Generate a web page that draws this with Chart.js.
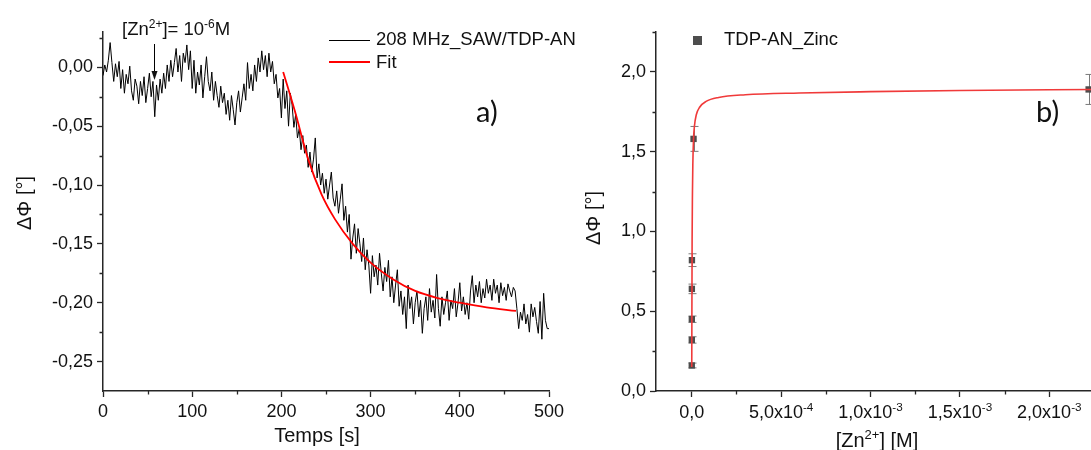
<!DOCTYPE html>
<html lang="fr">
<head>
<meta charset="utf-8">
<script src="https://cdn.jsdelivr.net/npm/chart.js@4.4.1/dist/chart.umd.min.js"></script>
<style>
    html, body { margin: 0; padding: 0; background: #fff; overflow: hidden; width: 1091px; height: 450px; }
    .panneau { position: absolute; top: 0; }
    #panneauA { left: 0; }
    #panneauB { left: 570px; }
</style>
</head>
<body>
<div class="panneau" id="panneauA"><canvas id="graficoA" width="600" height="450"></canvas></div>
<div class="panneau" id="panneauB"><canvas id="graficoB" width="530" height="450"></canvas></div>
<script>
// --- a) dephasage SAW en fonction du temps (une mesure toutes les 2 s) ---
const pasTemps = 2;
const dephasageSAW = [
    -0.007, 0.002, -0.004, 0.006, 0.021, 0.004, -0.012, 0.003, -0.008, 0.005,
    -0.018, -0.002, -0.022, -0.006, -0.014, 0.001, -0.020, -0.028, -0.010, -0.016,
    -0.031, -0.012, -0.024, -0.008, -0.030, -0.018, -0.005, -0.025, -0.012, -0.042,
    -0.015, -0.028, -0.010, -0.022, -0.005, -0.018, 0.002, -0.012, 0.006, -0.008,
    0.004, 0.016, -0.004, 0.010, -0.012, 0.012, 0.004, 0.019, -0.002, 0.014,
    -0.018, 0.006, -0.022, -0.004, -0.015, 0.002, -0.026, -0.008, 0.009, -0.012,
    -0.020, -0.004, -0.028, -0.012, -0.024, -0.034, -0.016, -0.030, -0.022, -0.040,
    -0.028, -0.045, -0.024, -0.036, -0.049, -0.030, -0.020, -0.038, -0.026, -0.014,
    -0.028, 0.004, -0.018, -0.006, -0.020, 0.002, -0.012, 0.008, -0.004, 0.014,
    -0.002, 0.010, -0.008, 0.012, -0.004, 0.005, -0.014, -0.006, -0.026, -0.018,
    -0.043, -0.010, -0.035, -0.020, -0.050, -0.022, -0.032, -0.051, -0.040, -0.060,
    -0.052, -0.070, -0.058, -0.073, -0.066, -0.085, -0.072, -0.089, -0.078, -0.060,
    -0.094, -0.082, -0.100, -0.090, -0.107, -0.095, -0.112, -0.100, -0.089, -0.111,
    -0.118, -0.105, -0.124, -0.112, -0.099, -0.130, -0.118, -0.140, -0.125, -0.163,
    -0.145, -0.133, -0.158, -0.137, -0.150, -0.165, -0.145, -0.172, -0.155, -0.168,
    -0.192, -0.160, -0.178, -0.168, -0.185, -0.158, -0.175, -0.190, -0.170, -0.182,
    -0.164, -0.195, -0.178, -0.200, -0.185, -0.172, -0.203, -0.190, -0.210, -0.195,
    -0.222, -0.185, -0.205, -0.195, -0.218, -0.200, -0.190, -0.212, -0.198, -0.226,
    -0.205, -0.195, -0.215, -0.188, -0.208, -0.198, -0.213, -0.176, -0.205, -0.220,
    -0.195, -0.210, -0.200, -0.190, -0.215, -0.198, -0.205, -0.188, -0.212, -0.200,
    -0.183, -0.207, -0.195, -0.210, -0.200, -0.214, -0.190, -0.177, -0.200, -0.185,
    -0.195, -0.182, -0.200, -0.188, -0.196, -0.180, -0.192, -0.185, -0.198, -0.180,
    -0.192, -0.185, -0.200, -0.183, -0.194, -0.187, -0.198, -0.184, -0.190, -0.195,
    -0.187, -0.190, -0.205, -0.222, -0.208, -0.215, -0.201, -0.218, -0.210, -0.225,
    -0.201, -0.212, -0.204, -0.216, -0.226, -0.199, -0.231, -0.192, -0.215, -0.222,
    -0.222
];
const tempsFit = [202, 215, 230, 245, 260, 280, 300, 325, 350, 375, 400, 430, 463];
const dephasageFit = [-0.004, -0.037, -0.078, -0.108, -0.129, -0.150, -0.166, -0.180, -0.190, -0.196, -0.200, -0.204, -0.207];
const tempsInjection = 57;

const ticksTempsA = [0, 100, 200, 300, 400, 500];
const ticksMineursTempsA = [50, 150, 250, 350, 450];
const ticksDephasageA = [0, -0.05, -0.10, -0.15, -0.20, -0.25];
const ticksMineursDephasageA = [0.025, -0.025, -0.075, -0.125, -0.175, -0.225];

// --- b) reponse en fonction de [Zn2+] ---
const concentrationsZn = [1e-7, 2.5e-7, 4e-7, 6e-7, 1e-6, 1e-5, 2.22e-3];
const reponseZn = [0.16, 0.32, 0.45, 0.64, 0.82, 1.58, 1.89];
const erreurZn = [0.015, 0.02, 0.02, 0.03, 0.04, 0.078, 0.094];
const concentrationsFit = [0, 2e-6, 4e-6, 6e-6, 1e-5, 1.5e-5, 2.5e-5, 4.5e-5, 8e-5, 1.5e-4, 3e-4, 6e-4, 1e-3, 1.5e-3, 2.25e-3];
const reponseFit = [0.15, 0.95, 1.25, 1.42, 1.58, 1.66, 1.73, 1.78, 1.815, 1.84, 1.857, 1.868, 1.876, 1.883, 1.89];

const ticksZn = [0, 5e-4, 1e-3, 1.5e-3, 2e-3];
const etiquettesZn = ['0,0', '5,0x10^-4', '1,0x10^-3', '1,5x10^-3', '2,0x10^-3'];
const ticksMineursZn = [2.5e-4, 7.5e-4, 1.25e-3, 1.75e-3];
const ticksReponseB = [0, 0.5, 1.0, 1.5, 2.0];
const ticksMineursReponseB = [0.25, 0.75, 1.25, 1.75, 2.25];

const POLICE = '"Liberation Sans", Arial, sans-serif';
const COULEUR_AXE = '#262626';
const TAILLE_TICKS = 18;
const TAILLE_TITRE = 20;

function police(taille) {
    return taille + 'px ' + POLICE;
}

/**
 * Ecrit un texte avec des exposants, morceaux separes par ^ (ex: "10^-6^M")
 */
function texteRiche(ctx, texte, x, y, taille, align) {
    const morceaux = texte.split('^');
    const petite = taille * 0.65;
    let largeur = 0;
    morceaux.forEach((m, i) => {
        ctx.font = police(i % 2 ? petite : taille);
        largeur += ctx.measureText(m).width;
    });
    let cx = align === 'center' ? x - largeur / 2 : x;
    ctx.textAlign = 'left';
    ctx.textBaseline = 'alphabetic';
    morceaux.forEach((m, i) => {
        ctx.font = police(i % 2 ? petite : taille);
        ctx.fillText(m, cx, i % 2 ? y - taille * 0.38 : y);
        cx += ctx.measureText(m).width;
    });
}

function texteVertical(ctx, texte, x, y, taille) {
    ctx.save();
    ctx.translate(x, y);
    ctx.rotate(-Math.PI / 2);
    ctx.font = police(taille);
    ctx.textAlign = 'center';
    ctx.textBaseline = 'middle';
    ctx.fillText(texte, 0, 0);
    ctx.restore();
}

function ticksMineurs(ctx, echelle, valeurs, horizontal) {
    const area = echelle.chart.chartArea;
    ctx.save();
    ctx.strokeStyle = COULEUR_AXE;
    ctx.lineWidth = 1.3;
    ctx.beginPath();
    valeurs.forEach(v => {
        const p = Math.round(echelle.getPixelForValue(v)) + 0.5;
        if (horizontal) {
            ctx.moveTo(p, area.bottom);
            ctx.lineTo(p, area.bottom + 3.5);
        } else {
            ctx.moveTo(area.left, p);
            ctx.lineTo(area.left - 3.5, p);
        }
    });
    ctx.stroke();
    ctx.restore();
}

function axeCommun(min, max, ticks, largeur, hauteur, format) {
    return {
        type: 'linear',
        min: min,
        max: max,
        afterBuildTicks: s => { s.ticks = ticks.map(v => ({ value: v })); },
        afterFit: s => {
            if (largeur) s.width = largeur;
            if (hauteur) s.height = hauteur;
            // pas de marge automatique pour les etiquettes des bords
            s.paddingLeft = 0;
            s.paddingRight = 0;
            s.paddingTop = 0;
            s.paddingBottom = 0;
        },
        grid: { drawOnChartArea: false, drawTicks: true, tickLength: 6, tickColor: COULEUR_AXE, tickWidth: 1.3 },
        border: { color: COULEUR_AXE, width: 1.5 },
        ticks: {
            display: !!format,
            color: '#111',
            font: { family: POLICE, size: TAILLE_TICKS },
            padding: 4,
            maxRotation: 0,
            autoSkip: false,
            callback: format || (() => '')
        }
    };
}

// --- graphique a) ---
const decorA = {
    id: 'decorA',
    afterDraw(chart) {
        const ctx = chart.ctx;
        const { x, y } = chart.scales;
        ticksMineurs(ctx, x, ticksMineursTempsA, true);
        ticksMineurs(ctx, y, ticksMineursDephasageA, false);

        ctx.save();
        ctx.fillStyle = '#111';
        texteVertical(ctx, 'ΔΦ [°]', 25, 203, TAILLE_TITRE);
        ctx.font = police(TAILLE_TITRE);
        ctx.textAlign = 'center';
        ctx.textBaseline = 'middle';
        ctx.fillText('Temps [s]', 317, 436);

        // injection du zinc
        texteRiche(ctx, '[Zn^2+^]= 10^-6^M', 122, 35, 18.5, 'left');
        const xa = Math.round(x.getPixelForValue(tempsInjection)) + 0.5;
        ctx.strokeStyle = '#000';
        ctx.lineWidth = 1;
        ctx.beginPath();
        ctx.moveTo(xa, 44);
        ctx.lineTo(xa, 72);
        ctx.stroke();
        ctx.beginPath();
        ctx.moveTo(xa - 3, 71);
        ctx.lineTo(xa + 3, 71);
        ctx.lineTo(xa, 80);
        ctx.closePath();
        ctx.fill();

        // legende
        ctx.lineWidth = 1;
        ctx.beginPath();
        ctx.moveTo(329, 40.5);
        ctx.lineTo(370, 40.5);
        ctx.stroke();
        ctx.strokeStyle = '#ff0000';
        ctx.lineWidth = 2;
        ctx.beginPath();
        ctx.moveTo(329, 62);
        ctx.lineTo(370, 62);
        ctx.stroke();
        ctx.font = police(18.5);
        ctx.textAlign = 'left';
        ctx.textBaseline = 'middle';
        ctx.fillText('208 MHz_SAW/TDP-AN', 376, 40);
        ctx.fillText('Fit', 376, 63);

        ctx.font = '29px Lato, "Open Sans", sans-serif';
        ctx.textBaseline = 'alphabetic';
        ctx.fillText('a)', 476, 122);
        ctx.restore();
    }
};

new Chart(document.getElementById('graficoA'), {
    type: 'line',
    data: {
        datasets: [{
            label: 'Fit',
            data: tempsFit.map((t, i) => ({ x: t, y: dephasageFit[i] })),
            borderColor: '#ff0000',
            borderWidth: 1.8,
            pointRadius: 0,
            cubicInterpolationMode: 'monotone'
        }, {
            label: '208 MHz_SAW/TDP-AN',
            data: dephasageSAW.map((v, i) => ({ x: i * pasTemps, y: v })),
            borderColor: '#000',
            borderWidth: 1,
            pointRadius: 0,
            tension: 0
        }]
    },
    options: {
        responsive: false,
        animation: false,
        layout: { autoPadding: false, padding: { left: 0, right: 51, top: 32, bottom: 0 } },
        plugins: { legend: { display: false }, tooltip: { enabled: false } },
        scales: {
            x: axeCommun(0, 500, ticksTempsA, 0, 59, v => String(v)),
            y: axeCommun(-0.275, 0.03, ticksDephasageA, 103, 0, v => v.toFixed(2).replace('.', ','))
        }
    },
    plugins: [decorA]
});

// --- graphique b) (canvas decale de 570 px) ---
const decorB = {
    id: 'decorB',
    beforeDatasetsDraw(chart) {
        // barres d'erreur sous les carres
        const ctx = chart.ctx;
        const { x, y } = chart.scales;
        ctx.save();
        ctx.strokeStyle = '#7a7a7a';
        ctx.lineWidth = 1;
        ctx.beginPath();
        concentrationsZn.forEach((c, i) => {
            const px = Math.round(x.getPixelForValue(c)) + 0.5;
            const haut = y.getPixelForValue(reponseZn[i] + erreurZn[i]);
            const bas = y.getPixelForValue(reponseZn[i] - erreurZn[i]);
            ctx.moveTo(px, haut);
            ctx.lineTo(px, bas);
            ctx.moveTo(px - 4, haut);
            ctx.lineTo(px + 4, haut);
            ctx.moveTo(px - 4, bas);
            ctx.lineTo(px + 4, bas);
        });
        ctx.stroke();
        ctx.restore();
    },
    afterDraw(chart) {
        const ctx = chart.ctx;
        const { x, y } = chart.scales;
        ticksMineurs(ctx, x, ticksMineursZn, true);
        ticksMineurs(ctx, y, ticksMineursReponseB, false);

        ctx.save();
        ctx.fillStyle = '#111';
        ticksZn.forEach((v, i) => {
            texteRiche(ctx, etiquettesZn[i], x.getPixelForValue(v), 418, TAILLE_TICKS, 'center');
        });
        texteVertical(ctx, 'ΔΦ [°]', 24, 218, TAILLE_TITRE);
        texteRiche(ctx, '[Zn^2+^] [M]', 307, 447, TAILLE_TITRE, 'center');

        // legende
        ctx.fillStyle = '#4d4d4d';
        ctx.fillRect(123, 36, 9, 9);
        ctx.fillStyle = '#111';
        ctx.font = police(18.5);
        ctx.textAlign = 'left';
        ctx.textBaseline = 'middle';
        ctx.fillText('TDP-AN_Zinc', 154, 40);

        ctx.font = '29px Lato, "Open Sans", sans-serif';
        ctx.textBaseline = 'alphabetic';
        ctx.fillText('b)', 466, 122);
        ctx.restore();
    }
};

new Chart(document.getElementById('graficoB'), {
    type: 'scatter',
    data: {
        datasets: [{
            type: 'line',
            label: 'Fit',
            data: concentrationsFit.map((c, i) => ({ x: c, y: reponseFit[i] })),
            borderColor: '#f03a3a',
            borderWidth: 1.6,
            pointRadius: 0,
            cubicInterpolationMode: 'monotone'
        }, {
            label: 'TDP-AN_Zinc',
            data: concentrationsZn.map((c, i) => ({ x: c, y: reponseZn[i] })),
            pointStyle: 'rect',
            pointRadius: 4.5,
            backgroundColor: '#4d4d4d',
            borderColor: '#4d4d4d',
            borderWidth: 0
        }]
    },
    options: {
        responsive: false,
        animation: false,
        layout: { autoPadding: false, padding: { left: 0, right: 6, top: 32, bottom: 0 } },
        plugins: { legend: { display: false }, tooltip: { enabled: false } },
        scales: {
            x: axeCommun(-2e-4, 2.25e-3, ticksZn, 0, 59, null),
            y: axeCommun(0, 2.25, ticksReponseB, 86, 0, v => v.toFixed(1).replace('.', ','))
        }
    },
    plugins: [decorB]
});
</script>
</body>
</html>
